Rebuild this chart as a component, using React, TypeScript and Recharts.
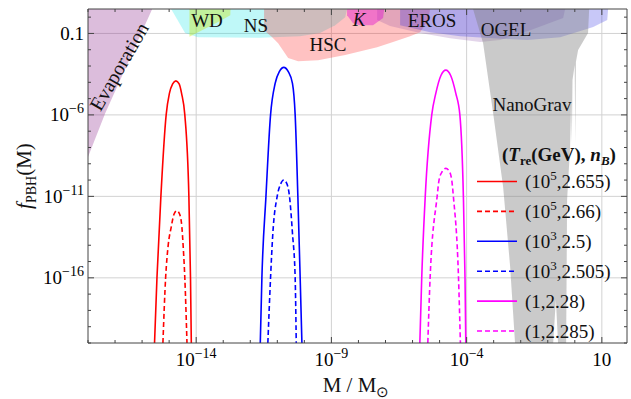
import React from "react";
import { ComposedChart, Line, Area, XAxis, YAxis, CartesianGrid } from "recharts";

const W = 631;
const H = 399;
const SERIF = '"Liberation Serif", "Times New Roman", Times, serif';
const FRAME = "#444";

// plot range, log10 units
const X_LOG_RANGE = [-18, 1.93];
const Y_LOG_RANGE = [-20, 0.5];

const X_TICK_EXP = [-18, -17, -16, -15, -14, -13, -12, -11, -10, -9, -8, -7, -6, -5, -4, -3, -2, -1, 0, 1];
const X_LABEL_EXP = [-14, -9, -4, 1];
const Y_TICK_EXP = [-20, -19, -18, -17, -16, -15, -14, -13, -12, -11, -10, -9, -8, -7, -6, -5, -4, -3, -2, -1, 0];
const Y_LABEL_EXP = [-16, -11, -6, -1];

// f_PBH curves: [log10 M, log10 f]
const RED_SOLID = [
  [-15.54, -20], [-15.45, -16], [-15.305, -11], [-15.11, -6], [-14.99, -4.68], [-14.87, -4.1],
  [-14.75, -3.91], [-14.63, -4.1], [-14.54, -4.68], [-14.42, -6], [-14.27, -11], [-14.21, -16], [-14.18, -20],
];
const RED_DASHED = [
  [-15.23, -20], [-15.13, -16], [-15.04, -14.08], [-14.92, -12.86], [-14.82, -12.1], [-14.71, -11.88],
  [-14.61, -12.1], [-14.53, -12.86], [-14.48, -14.08], [-14.42, -16], [-14.34, -20],
];
const BLUE_SOLID = [
  [-11.63, -20], [-11.57, -16], [-11.42, -11], [-11.25, -6], [-11.08, -4.07], [-10.92, -3.33],
  [-10.76, -3.08], [-10.6, -3.33], [-10.44, -4.07], [-10.34, -6], [-10.24, -11], [-10.155, -16], [-10.09, -20],
];
const BLUE_DASHED = [
  [-11.35, -20], [-11.25, -16], [-11.165, -13.26], [-11.005, -11], [-10.88, -10.25], [-10.76, -10.0],
  [-10.64, -10.25], [-10.55, -11], [-10.44, -13.26], [-10.34, -16], [-10.3, -20],
];
const MAGENTA_SOLID = [
  [-5.73, -20], [-5.66, -16], [-5.53, -11], [-5.29, -6], [-5.14, -4.68], [-4.95, -3.58],
  [-4.77, -3.25], [-4.59, -3.58], [-4.4, -4.68], [-4.25, -6], [-4.12, -11], [-4.06, -16], [-4.03, -20],
];
const MAGENTA_DASHED = [
  [-5.435, -20], [-5.35, -16], [-5.09, -11], [-5.02, -10.0], [-4.9, -9.47], [-4.77, -9.28],
  [-4.64, -9.47], [-4.55, -10.0], [-4.49, -11], [-4.3, -16], [-4.23, -20],
];

// excluded regions: lower edge [log10 M, log10 f], filled up to the top of the plot
const EVAPORATION = [[-18, -8.58], [-17.36, -5.89], [-15.63, 0.49]];
const WD = [[-14.25, -1.21], [-13.05, -0.18], [-12.74, 0.12], [-12.73, 0.49]];
const NS = [
  [-14.92, 0.49], [-14.41, -0.98], [-13.93, -1.23], [-11.63, -1.26], [-10.16, -1.17],
  [-9.42, -0.98], [-8.86, -0.49], [-8.49, 0.0], [-8.42, 0.49],
];
const HSC = [
  [-11.49, -0.8], [-11.19, -1.23], [-10.97, -1.6], [-10.6, -2.51], [-10.23, -2.7], [-9.49, -2.64],
  [-8.49, -2.33], [-7.31, -1.84], [-6.72, -1.53], [-6.09, -1.17], [-5.72, -0.92], [-5.42, -0.18], [-5.35, 0.49],
];
const KEPLER = [[-8.42, 0.12], [-8.2, -0.37], [-7.94, -0.49], [-7.46, -0.49], [-7.09, -0.06], [-7.05, 0.49]];
const EROS = [
  [-7.31, -0.18], [-6.83, -0.55], [-5.72, -0.98], [-4.61, -1.29], [-3.5, -1.53], [-2.76, -1.41],
  [-1.65, -0.8], [-0.43, -0.06], [-0.36, 0.49],
];
const OGLE = [
  [-6.46, -0.49], [-5.35, -0.92], [-4.24, -1.17], [-3.02, -1.29], [-1.76, -1.41], [-0.54, -1.23],
  [0.68, -0.61], [1.2, -0.18], [1.23, 0.49],
];
const NANOGRAV = [
  [-3.76, 0.49], [-3.39, -1.6], [-3.02, -5.89], [-2.65, -10.42], [-2.39, -15.33], [-2.21, -20],
  [-0.8, -20], [-0.7, -17.35], [-0.62, -20], [-0.32, -20], [-0.285, -11.22], [-0.174, -7.97],
  [-0.137, -5.09], [-0.111, -7.73], [-0.085, -3.86], [-0.004, -2.94], [0.019, -7.73], [0.041, -2.76],
  [0.122, -2.02], [0.49, -0.98], [0.53, 0.49],
];

const LINES = [
  { key: "r1", pts: RED_SOLID, color: "#ff0000", dash: undefined, label: ["(10", "5", ",2.655)"] },
  { key: "r2", pts: RED_DASHED, color: "#ff0000", dash: "5 3", label: ["(10", "5", ",2.66)"] },
  { key: "b1", pts: BLUE_SOLID, color: "#0000ff", dash: undefined, label: ["(10", "3", ",2.5)"] },
  { key: "b2", pts: BLUE_DASHED, color: "#0000ff", dash: "5 3", label: ["(10", "3", ",2.505)"] },
  { key: "m1", pts: MAGENTA_SOLID, color: "#ff00ff", dash: undefined, label: ["(1,2.28)", "", ""] },
  { key: "m2", pts: MAGENTA_DASHED, color: "#ff00ff", dash: "5 3", label: ["(1,2.285)", "", ""] },
];

const REGIONS = [
  { key: "evap", pts: EVAPORATION, fill: "#8a268a", op: 0.3 },
  { key: "ns", pts: NS, fill: "#00e5e5", op: 0.25 },
  { key: "wd", pts: WD, fill: "#c8e614", op: 0.4 },
  { key: "hsc", pts: HSC, fill: "#ff0000", op: 0.24 },
  { key: "eros", pts: EROS, fill: "#8040a0", op: 0.22 },
  { key: "k", pts: KEPLER, fill: "#dc00d2", op: 0.4 },
  { key: "ogle", pts: OGLE, fill: "#1a1ae0", op: 0.24 },
  { key: "nano", pts: NANOGRAV, fill: "#808080", op: 0.42 },
];

const REGION_LABELS = [
  { text: "WD", x: 207, y: 27 },
  { text: "NS", x: 256, y: 32 },
  { text: "HSC", x: 328, y: 51 },
  { text: "K", x: 359, y: 26, italic: true },
  { text: "EROS", x: 432, y: 27 },
  { text: "OGEL", x: 506, y: 36 },
  { text: "NanoGrav", x: 532, y: 111 },
];

const pw = (e: number) => Math.pow(10, e);
const X_DOMAIN = [pw(X_LOG_RANGE[0]), pw(X_LOG_RANGE[1])];
const Y_DOMAIN = [pw(Y_LOG_RANGE[0]), pw(Y_LOG_RANGE[1])];
const X_TICKS = X_TICK_EXP.map(pw);
const Y_TICKS = Y_TICK_EXP.map(pw);
const X_MAJOR = X_LABEL_EXP.map(pw);
const Y_MAJOR = Y_LABEL_EXP.map(pw);
const toLine = (pts: number[][]) => pts.map(([lm, lf]) => ({ m: pw(lm), f: pw(lf) }));
const toBand = (pts: number[][]) =>
  pts.map(([lm, lf]) => ({ m: pw(lm), band: [pw(lf), Y_DOMAIN[1]] }));

const expOf = (v: number) => Math.round(Math.log10(v));
const serifStyle = { fontFamily: SERIF };

const Pow = ({ e }: { e: number }) => (
  <>
    10
    <tspan dy={-8} fontSize={14}>
      {"\u2212" + Math.abs(e)}
    </tspan>
  </>
);

// tick marks point into the frame; majors are longer and carry the labels
function makeTick(side: "bottom" | "top" | "left" | "right") {
  return (props: any) => {
    const { x, y, payload } = props;
    const e = expOf(payload.value);
    const major = side === "bottom" || side === "top" ? X_LABEL_EXP.includes(e) : Y_LABEL_EXP.includes(e);
    const len = major ? 6 : 3;
    let mark;
    if (side === "bottom") mark = <line x1={x} x2={x} y1={y} y2={y - len} />;
    else if (side === "top") mark = <line x1={x} x2={x} y1={y} y2={y + len} />;
    else if (side === "left") mark = <line x1={x} x2={x + len} y1={y} y2={y} />;
    else mark = <line x1={x} x2={x - len} y1={y} y2={y} />;
    let label = null;
    if (major && side === "bottom") {
      label = (
        <text x={x} y={y + 23} textAnchor="middle" style={serifStyle} fontSize={19} fill="#000" stroke="none">
          {e === 1 ? "10" : <Pow e={e} />}
        </text>
      );
    } else if (major && side === "left") {
      label = (
        <text x={x - 4} y={y + 6.5} textAnchor="end" style={serifStyle} fontSize={19} fill="#000" stroke="none">
          {e === -1 ? "0.1" : <Pow e={e} />}
        </text>
      );
    }
    return (
      <g stroke={FRAME} strokeWidth={1}>
        {mark}
        {label}
      </g>
    );
  };
}
const BottomTick = makeTick("bottom");
const TopTick = makeTick("top");
const LeftTick = makeTick("left");
const RightTick = makeTick("right");

function Overlay() {
  const rowTop = 181.5;
  const rowGap = 29.9;
  return (
    <svg width={W} height={H} style={{ position: "absolute", left: 0, top: 0, pointerEvents: "none" }}>
      <g style={serifStyle} fill="#111">
        <text x={0} y={0} fontSize={20} textAnchor="middle" transform="translate(125,70) rotate(-60)">
          Evaporation
        </text>
        {REGION_LABELS.map((l) => (
          <text key={l.text} x={l.x} y={l.y} fontSize={19} textAnchor="middle" fontStyle={l.italic ? "italic" : "normal"}>
            {l.text}
          </text>
        ))}
        {/* axis titles */}
        <text x={356} y={392} fontSize={21} textAnchor="middle">
          M / M
          <tspan dy={5} fontSize={15}>
            {"\u2299"}
          </tspan>
        </text>
        <text x={0} y={0} fontSize={21} textAnchor="middle" transform="translate(31,176) rotate(-90)">
          <tspan fontStyle="italic">f</tspan>
          <tspan dy={5} fontSize={14}>
            PBH
          </tspan>
          <tspan dy={-5}>(M)</tspan>
        </text>
        {/* legend */}
        <text x={502} y={161} fontSize={19} fontWeight="bold">
          (<tspan fontStyle="italic">T</tspan>
          <tspan dy={4} fontSize={13}>
            re
          </tspan>
          <tspan dy={-4}>(GeV), </tspan>
          <tspan fontStyle="italic">n</tspan>
          <tspan dy={4} fontSize={13} fontStyle="italic">
            B
          </tspan>
          <tspan dy={-4}>)</tspan>
        </text>
        {LINES.map((s, i) => {
          const cy = rowTop + i * rowGap;
          return (
            <g key={s.key}>
              <line x1={477} x2={517} y1={cy} y2={cy} stroke={s.color} strokeWidth={1.6} strokeDasharray={s.dash} />
              <text x={525} y={cy + 6.5} fontSize={19}>
                {s.label[0]}
                {s.label[1] && (
                  <tspan dy={-8} fontSize={13}>
                    {s.label[1]}
                  </tspan>
                )}
                {s.label[2] && <tspan dy={s.label[1] ? 8 : 0}>{s.label[2]}</tspan>}
              </text>
            </g>
          );
        })}
      </g>
    </svg>
  );
}

export default function App() {
  return (
    <div style={{ position: "absolute", left: 0, top: 0, width: W, height: H, background: "#fff" }}>
      <ComposedChart width={W} height={H} margin={{ top: 8, right: 3, bottom: 26, left: 8 }}>
        <XAxis xAxisId="x" type="number" dataKey="m" scale="log" domain={X_DOMAIN} allowDataOverflow
          ticks={X_TICKS} interval={0} height={30} tickSize={0} tickMargin={0}
          tick={BottomTick} tickLine={false} axisLine={{ stroke: FRAME }} />
        <XAxis xAxisId="xt" orientation="top" type="number" dataKey="m" scale="log" domain={X_DOMAIN}
          allowDataOverflow ticks={X_TICKS} interval={0} height={1} tickSize={0} tickMargin={0}
          tick={TopTick} tickLine={false} axisLine={{ stroke: FRAME }} />
        <YAxis yAxisId="y" type="number" scale="log" domain={Y_DOMAIN} allowDataOverflow
          ticks={Y_TICKS} interval={0} width={80} tickSize={0} tickMargin={0}
          tick={LeftTick} tickLine={false} axisLine={{ stroke: FRAME }} />
        <YAxis yAxisId="yr" orientation="right" type="number" scale="log" domain={Y_DOMAIN}
          allowDataOverflow ticks={Y_TICKS} interval={0} width={1} tickSize={0} tickMargin={0}
          tick={RightTick} tickLine={false} axisLine={{ stroke: FRAME }} />
        <CartesianGrid xAxisId="x" yAxisId="y" verticalValues={X_MAJOR} horizontalValues={Y_MAJOR}
          stroke="#d2d2d2" strokeWidth={1} />

        {REGIONS.map((r) => (
          <Area key={r.key} xAxisId="x" yAxisId="y" data={toBand(r.pts)} dataKey="band" type="linear"
            stroke="none" fill={r.fill} fillOpacity={r.op} isAnimationActive={false} legendType="none" />
        ))}
        {LINES.map((s) => (
          <Line key={s.key} xAxisId="x" yAxisId="y" data={toLine(s.pts)} dataKey="f" type="monotone"
            stroke={s.color} strokeWidth={1.6} strokeDasharray={s.dash} dot={false} activeDot={false}
            isAnimationActive={false} />
        ))}
      </ComposedChart>
      <Overlay />
    </div>
  );
}
